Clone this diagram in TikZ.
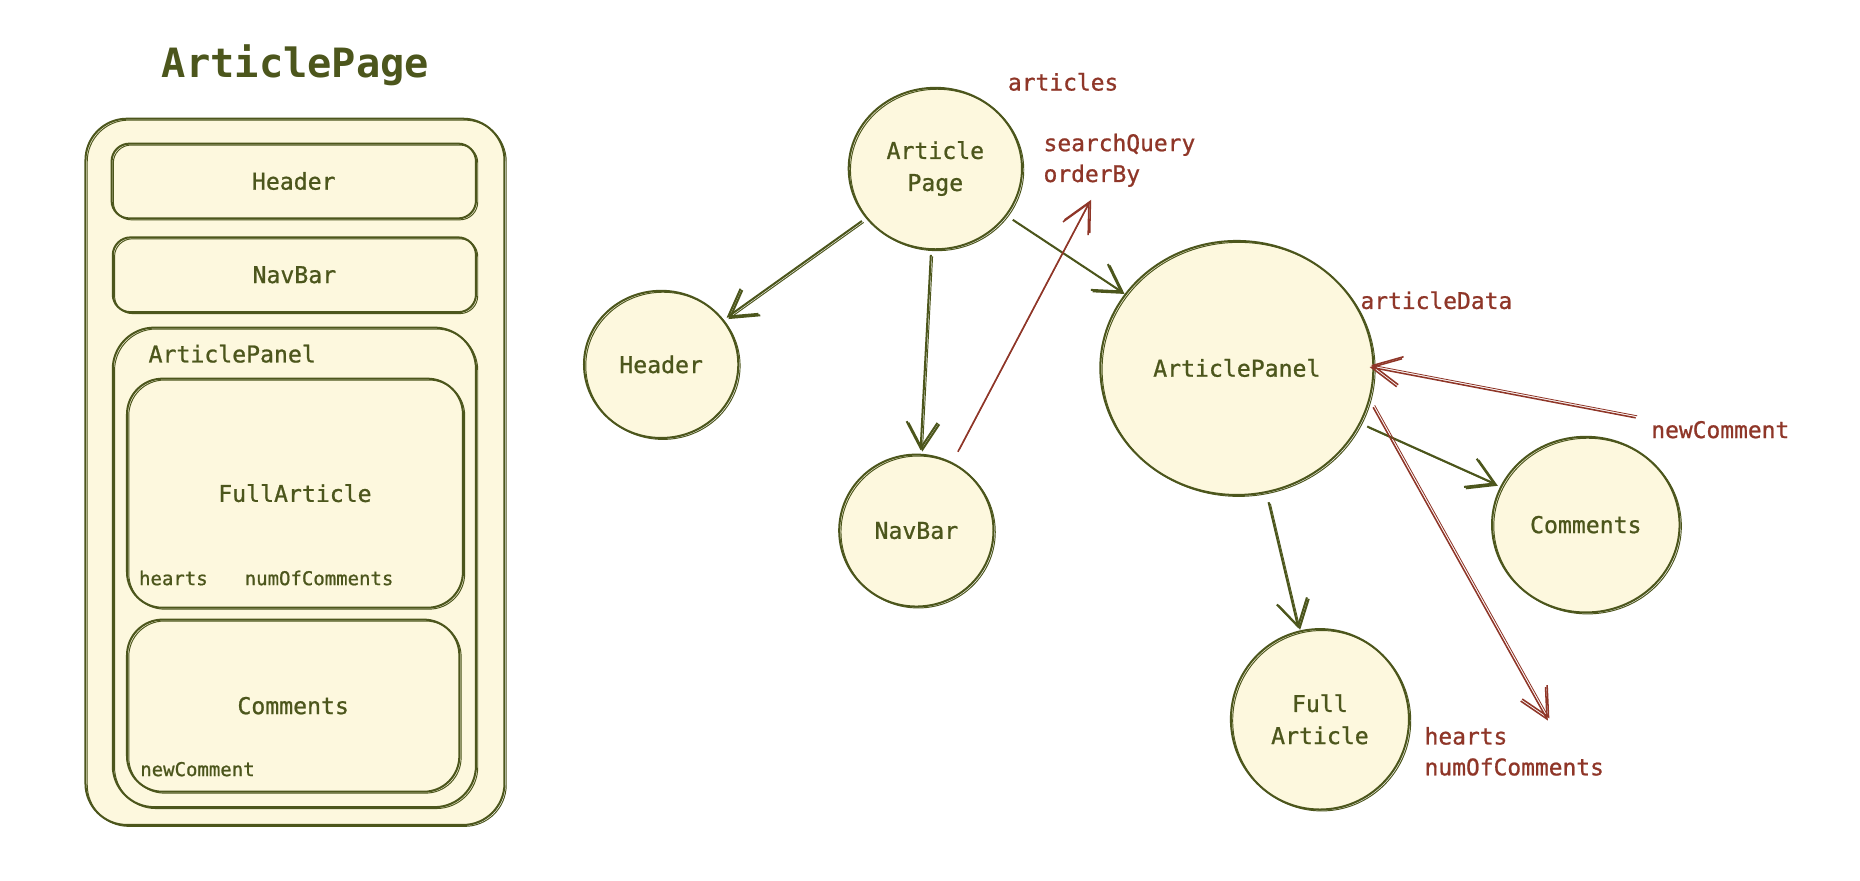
\documentclass[tikz,border=0pt]{standalone}
\usepackage{fontspec}
\setmainfont{DejaVu Sans Mono}
\newfontfamily\semib[FakeBold=0.9]{DejaVu Sans Mono}
\usetikzlibrary{shapes.geometric,arrows.meta,calc}
\definecolor{ink}{HTML}{4C561C}
\definecolor{paper}{HTML}{FDF8DE}
\definecolor{rust}{HTML}{8F3628}
\begin{document}
\begin{tikzpicture}[x=1pt,y=-1pt,
  ghost/.style={postaction={draw=ink, line width=0.8pt, transform canvas={shift={(1.5pt,-1.2pt)}}}},
  rghost/.style={postaction={draw=rust, line width=0.7pt, transform canvas={shift={(1.3pt,1.7pt)}}}},
  box/.style={draw=ink, fill=paper, line width=1.7pt, rounded corners=#1, ghost, inner sep=0pt, text=ink, font=\semib\fontsize{19.5}{24}\selectfont},
  circ/.style={ellipse, draw=ink, fill=paper, line width=1.7pt, ghost, align=center, inner sep=0pt, text=ink, font=\semib\fontsize{19.5}{27}\selectfont},
  ltext/.style={text=ink, inner sep=0pt, font=\semib\fontsize{16}{20}\selectfont},
  rlab/.style={text=rust, inner sep=0pt, align=left, font=\semib\fontsize{19.3}{26}\selectfont},
  garrow/.style={draw=ink, line width=1.7pt, -{Straight Barb[length=22pt,width=26pt,line width=1.7pt]}, ghost},
  rarrow/.style={draw=rust, line width=1.3pt, -{Straight Barb[length=24pt,width=24pt,line width=1.3pt]}, rghost}]
\useasboundingbox[fill=white] (0,0) rectangle (1567,741.4);

% ---------- left: nested layout ----------
\node[text=ink, inner sep=0pt, font=\fontsize{34}{40}\bfseries\selectfont] (title) at (249,55) {ArticlePage};
\node[box=35pt, minimum width=353pt, minimum height=595pt] (outer) at (248.5,397.5) {};
\node[box=15pt, minimum width=307pt, minimum height=63pt] (bhd) at (247.5,152.5) {Header};
\node[box=15pt, minimum width=306pt, minimum height=63pt] (bnb) at (248,231.5) {NavBar};
\node[box=35pt, minimum width=306pt, minimum height=404pt] (bap) at (248,478) {};
\node[text=ink, inner sep=0pt, anchor=west, font=\semib\fontsize{19.5}{24}\selectfont] (tap) at (125,298) {ArticlePanel};
\node[box=30pt, minimum width=283pt, minimum height=193pt] (bfa) at (248.5,415.5) {FullArticle};
\node[ltext, anchor=west] (thearts) at (117,487) {hearts};
\node[ltext, anchor=west] (tnum) at (206,487) {numOfComments};
\node[box=30pt, minimum width=280pt, minimum height=145pt] (bcm) at (247,594.5) {Comments};
\node[ltext, anchor=west] (tnew) at (118,648) {newComment};

% ---------- right: component tree ----------
\node[circ, minimum width=146pt, minimum height=136pt] (ap) at (788,142) {Article\\Page};
\node[circ, minimum width=130pt, minimum height=124pt] (hd) at (557,307) {Header};
\node[circ, minimum width=130pt, minimum height=128pt] (nb) at (772,447) {NavBar};
\node[circ, minimum width=230pt, minimum height=214pt] (apn) at (1042,310) {ArticlePanel};
\node[circ, minimum width=158pt, minimum height=148pt] (cm) at (1336,442) {Comments};
\node[circ, minimum width=150pt, minimum height=152pt] (fa) at (1112,606) {Full\\Article};

\node[rlab, anchor=west] (l1) at (849,69) {articles};
\node[rlab, anchor=west] (l2) at (879,135) {searchQuery\\orderBy};
\node[rlab, anchor=west] (l3) at (1146,253) {articleData};
\node[rlab, anchor=west] (l4) at (1391,362) {newComment};
\node[rlab, anchor=west] (l5) at (1200,633) {hearts\\numOfComments};

\coordinate (sq) at (918,170);
\coordinate (nc) at (1378,352);
\coordinate (ht) at (1304,607);

\draw[garrow, shorten <=4pt, shorten >=3pt] (ap) -- (hd);
\draw[garrow, shorten <=4pt, shorten >=3pt] (ap) -- (nb);
\draw[garrow, shorten <=6pt, shorten >=2pt] (ap) -- (apn);
\draw[garrow, shorten <=8pt, shorten >=2pt] (apn) -- (fa);
\draw[garrow, shorten <=6pt, shorten >=4pt] (apn) -- (cm);

\draw[rarrow, shorten <=10pt] (nb) -- (sq);
\draw[rarrow, shorten >=-4pt] (nc) -- (apn.east);
\draw[rarrow, shorten <=6pt] (apn.-14) -- (ht);
\end{tikzpicture}
\end{document}
